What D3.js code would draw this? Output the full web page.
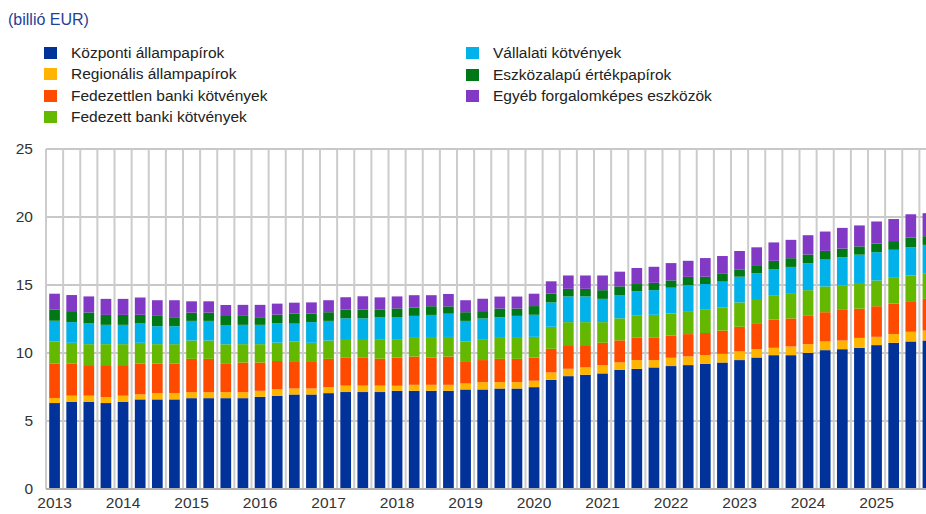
<!DOCTYPE html>
<html><head><meta charset="utf-8">
<script src="https://cdn.jsdelivr.net/npm/d3@7/dist/d3.min.js"></script>
<style>
html,body{margin:0;padding:0;background:#fff;}
svg{display:block;font-family:Arial,"Liberation Sans",sans-serif;}
</style></head>
<body><svg id="chart" width="926" height="514"></svg>
<script>
// quarters 2013 Q1 - 2025 Q4
const years = ["2013","2014","2015","2016","2017","2018","2019","2020","2021","2022","2023","2024","2025"];
const categories = [];
years.forEach(y => ["Q1","Q2","Q3","Q4"].forEach(q => categories.push(y + " " + q)));

const seriesNames = ["Központi állampapírok","Regionális állampapírok","Fedezettlen banki kötvények","Fedezett banki kötvények","Vállalati kötvények","Eszközalapú értékpapírok","Egyéb forgalomképes eszközök"];
const seriesColors = ["#003299","#FFB400","#FF4B00","#65B800","#00B1EA","#007816","#8139C6"];

const kozponti = [6.32,6.42,6.42,6.32,6.42,6.59,6.59,6.59,6.68,6.68,6.68,6.68,6.78,6.86,6.95,6.95,7.05,7.13,7.13,7.13,7.22,7.22,7.22,7.22,7.32,7.32,7.39,7.39,7.49,8.03,8.30,8.40,8.50,8.77,8.84,8.94,9.04,9.11,9.21,9.30,9.48,9.67,9.84,9.84,10.01,10.21,10.28,10.38,10.58,10.75,10.85,10.92];
const regionalis = [0.37,0.44,0.44,0.44,0.44,0.37,0.47,0.47,0.44,0.44,0.44,0.44,0.44,0.47,0.44,0.44,0.44,0.47,0.47,0.47,0.37,0.44,0.44,0.44,0.44,0.54,0.47,0.47,0.47,0.54,0.54,0.54,0.61,0.54,0.64,0.54,0.61,0.64,0.64,0.64,0.64,0.61,0.54,0.64,0.64,0.64,0.64,0.73,0.61,0.64,0.71,0.73];
const fedezettlen = [2.52,2.35,2.25,2.35,2.25,2.25,2.15,2.15,2.45,2.45,2.08,2.18,2.08,2.08,2.01,2.01,2.08,2.08,2.08,1.98,2.08,2.08,2.01,2.08,1.64,1.62,1.71,1.71,1.71,1.74,1.74,1.64,1.64,1.62,1.64,1.64,1.64,1.64,1.62,1.71,1.81,1.91,2.08,2.06,2.08,2.15,2.25,2.15,2.25,2.25,2.25,2.33];
const fedezett = [1.64,1.54,1.54,1.54,1.54,1.54,1.44,1.44,1.35,1.35,1.44,1.35,1.35,1.35,1.44,1.35,1.35,1.35,1.35,1.44,1.35,1.37,1.44,1.44,1.44,1.54,1.54,1.54,1.52,1.62,1.69,1.69,1.52,1.62,1.62,1.69,1.62,1.69,1.71,1.71,1.79,1.71,1.79,1.81,1.89,1.89,1.81,1.89,1.89,1.89,1.89,1.89];
const vallalati = [1.52,1.52,1.52,1.42,1.42,1.42,1.32,1.32,1.44,1.44,1.42,1.42,1.42,1.42,1.32,1.52,1.44,1.52,1.52,1.62,1.62,1.62,1.69,1.71,1.52,1.52,1.52,1.62,1.62,1.79,1.89,1.89,1.71,1.71,1.79,1.81,1.89,1.91,1.89,1.89,1.89,1.96,1.89,1.98,1.98,1.98,2.06,2.08,2.08,2.06,2.08,2.08];
const eszkozalapu = [0.81,0.81,0.81,0.73,0.73,0.64,0.76,0.66,0.61,0.61,0.66,0.66,0.56,0.64,0.73,0.64,0.64,0.64,0.64,0.54,0.64,0.61,0.64,0.54,0.64,0.54,0.64,0.54,0.64,0.64,0.56,0.56,0.64,0.64,0.54,0.54,0.54,0.61,0.54,0.61,0.54,0.54,0.64,0.64,0.64,0.64,0.64,0.61,0.64,0.64,0.71,0.64];
const egyeb = [1.18,1.18,1.18,1.18,1.18,1.27,1.15,1.25,0.83,0.83,0.81,0.81,0.91,0.81,0.81,0.81,0.88,0.91,0.98,0.91,0.88,0.91,0.81,0.91,0.88,0.91,0.88,0.88,0.91,0.91,0.98,0.98,1.08,1.08,1.18,1.18,1.27,1.18,1.37,1.27,1.35,1.37,1.35,1.35,1.42,1.42,1.52,1.54,1.62,1.62,1.71,1.69];
const seriesValues = [kozponti, regionalis, fedezettlen, fedezett, vallalati, eszkozalapu, egyeb];
const yTicks = [0,5,10,15,20,25];

(function () {
const svg = d3.select("#chart");
const W = 926, H = 514;
const FS = 15.5;
const plotLeft = 46, plotTop = 149, plotBottom = 489;
const step = 17.125;
const plotRight = plotLeft + step * categories.length;

const x = d3.scaleBand().domain(categories).range([plotLeft, plotRight]).paddingInner(0.375).paddingOuter(0.1875);
const y = d3.scaleLinear().domain([0, 25]).range([plotBottom, plotTop]);

const rows = categories.map((c, i) => {
  const o = {cat: c};
  seriesNames.forEach((s, j) => o[s] = seriesValues[j][i]);
  return o;
});
const stacked = d3.stack().keys(seriesNames)(rows);

svg.append("defs").append("clipPath").attr("id","clip")
  .append("rect").attr("x",0).attr("y",0).attr("width",W).attr("height",H);

const g = svg.append("g").attr("clip-path","url(#clip)");

// horizontal grid
g.append("g").selectAll("line").data(yTicks.filter(t => t > 0)).join("line")
  .attr("x1", plotLeft).attr("x2", plotRight)
  .attr("y1", d => y(d)).attr("y2", d => y(d))
  .attr("stroke", "#c8c8c8").attr("stroke-width", 2);

// vertical grid at band boundaries
const bounds = categories.map(c => x(c) - x.step() * 0.1875);
g.append("g").selectAll("line").data(bounds).join("line")
  .attr("x1", d => d).attr("x2", d => d)
  .attr("y1", y(25)).attr("y2", y(0))
  .attr("stroke", "#cccccc").attr("stroke-width", 2);

// bars
g.append("g").selectAll("g").data(stacked).join("g")
  .attr("fill", (d, i) => seriesColors[i])
  .selectAll("rect").data(d => d).join("rect")
  .attr("x", d => x(d.data.cat))
  .attr("width", x.bandwidth())
  .attr("y", d => y(d[1]))
  .attr("height", d => y(d[0]) - y(d[1]));

// baseline
g.append("line").attr("x1", plotLeft).attr("x2", plotRight).attr("y1", y(0)).attr("y2", y(0))
  .attr("stroke", "#b0b0b0").attr("stroke-width", 2);

// y axis labels
const yAxis = d3.axisLeft(y).tickValues(yTicks).tickSize(0).tickPadding(0);
const ya = svg.append("g").attr("transform", "translate(33,0)").call(yAxis);
ya.select(".domain").remove();
ya.selectAll("text").attr("font-size", FS).attr("fill", "#333").attr("font-family","Arial,'Liberation Sans',sans-serif");

// x axis labels
const xAxis = d3.axisBottom(x).tickValues(categories.filter((c, i) => i % 4 === 0))
  .tickFormat(c => c.slice(0,4)).tickSize(0).tickPadding(0);
const xa = svg.append("g").attr("transform", "translate(0,497)").call(xAxis);
xa.select(".domain").remove();
xa.selectAll("text").attr("font-size", FS).attr("fill", "#333").attr("dy","0.71em").attr("font-family","Arial,'Liberation Sans',sans-serif");

// title
svg.append("text").attr("x", 8).attr("y", 25).attr("font-size", 16).attr("fill", "#1f3f9a").text("(billió EUR)");

// legend
const legendPos = [
  [44, 53], [44, 74], [44, 96], [44, 117],
  [466, 53], [466, 75], [466, 96]
];
const lg = svg.append("g").selectAll("g").data(seriesNames).join("g")
  .attr("transform", (d, i) => `translate(${legendPos[i][0]},${legendPos[i][1]})`);
lg.append("rect").attr("x", 0).attr("y", -6).attr("width", 13).attr("height", 12)
  .attr("fill", (d, i) => seriesColors[i]);
lg.append("text").attr("x", 27).attr("y", 0).attr("dy", "0.35em").attr("font-size", FS)
  .attr("fill", "#222").text(d => d);
})();
</script></body></html>
